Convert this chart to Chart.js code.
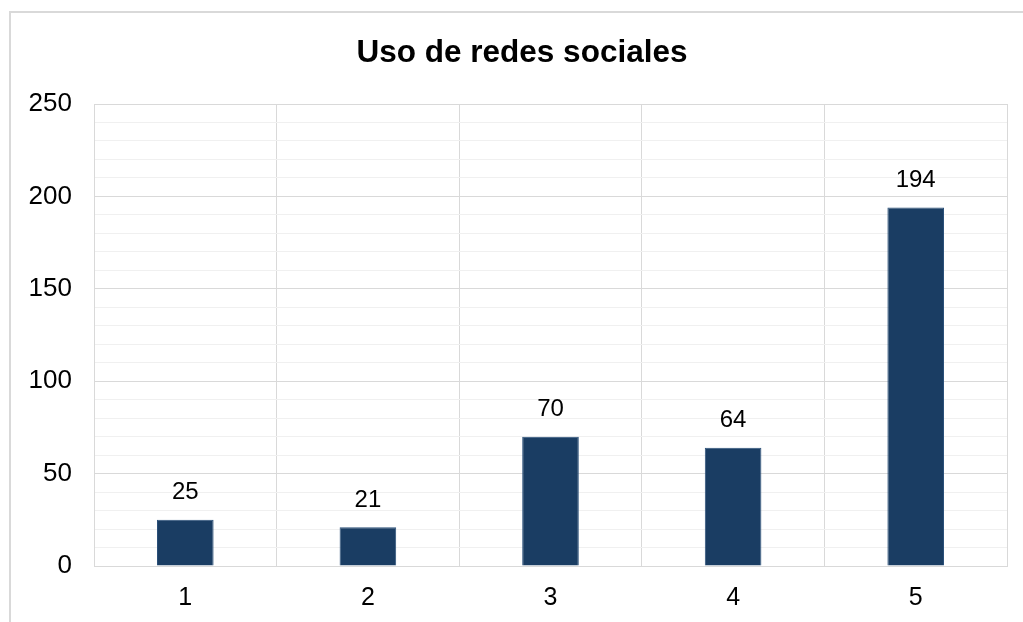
<!DOCTYPE html>
<html>
<head>
<meta charset="utf-8">
<script src="https://cdn.jsdelivr.net/npm/chart.js@4"></script>
<style>
  html, body { margin: 0; padding: 0; background: #fff; overflow: hidden; }
  #frame { position: absolute; left: 9px; top: 11px; width: 1100px; height: 700px; border: 2px solid #d9d9d9; }
  #wrap { position: absolute; left: 0; top: 0; width: 1023px; height: 622px; }
</style>
</head>
<body>
<div id="frame"></div>
<div id="wrap"><canvas id="chart_redes"></canvas></div>
<script>
var categorias = ['1', '2', '3', '4', '5'];
var valores = [25, 21, 70, 64, 194];
var titulo = 'Uso de redes sociales';

// etiquetas encima de cada barra + titulo (centrado en el marco, no en el canvas)
var etiquetas = {
    id: 'etiquetas',
    afterDatasetsDraw: function(chart){
        var ctx = chart.ctx;
        ctx.save();
        ctx.fillStyle = '#000';
        ctx.textAlign = 'center';
        ctx.textBaseline = 'middle';
        ctx.font = 'bold 31.5px "Liberation Sans", Arial, sans-serif';
        ctx.fillText(titulo, 522, 53);
        ctx.font = '24px "Liberation Sans", Arial, sans-serif';
        chart.getDatasetMeta(0).data.forEach(function(bar, i){
            ctx.fillText(valores[i], bar.x, bar.y - 27);
        });
        ctx.restore();
    }
};

const dt = {
    labels: categorias,
    datasets: [
    {
        data: valores,
        backgroundColor: '#1a3d63',
        borderColor: '#2b5079',
        borderWidth: 1,
        barPercentage: 0.31,
        categoryPercentage: 1
    }
    ]
};

const config_redes = {
    type: 'bar',
    data: dt,
    plugins: [etiquetas],
    options: {
        responsive: false,
        animation: false,
        layout: { padding: { left: 10, right: 16, top: 104, bottom: 0 } },
        plugins: {
            legend: { display: false },
            tooltip: { enabled: false },
            title: { display: false }
        },
        scales: {
            x: {
                grid: { color: '#d9d9d9', drawTicks: false, offset: true },
                border: { color: '#d9d9d9' },
                ticks: { color: '#000', padding: 17, font: { family: '"Liberation Sans", Arial, sans-serif', size: 25 } },
                afterFit: function(s){ s.height = 56; }
            },
            y: {
                min: 0,
                max: 250,
                grid: {
                    drawTicks: false,
                    color: function(c){ return c.tick && c.tick.value % 50 === 0 ? '#d9d9d9' : '#f0f0f0'; }
                },
                border: { color: '#d9d9d9' },
                ticks: {
                    stepSize: 10,
                    autoSkip: false,
                    color: '#000',
                    padding: 22,
                    font: { family: '"Liberation Sans", Arial, sans-serif', size: 26 },
                    callback: function(v){ return v % 50 === 0 ? v : ''; }
                },
                afterFit: function(s){ s.width = 84; }
            }
        }
    }
};

const cv = document.getElementById('chart_redes');
cv.width = 1023;
cv.height = 622;
const redes_chart = new Chart(cv, config_redes);
</script>
</body>
</html>
